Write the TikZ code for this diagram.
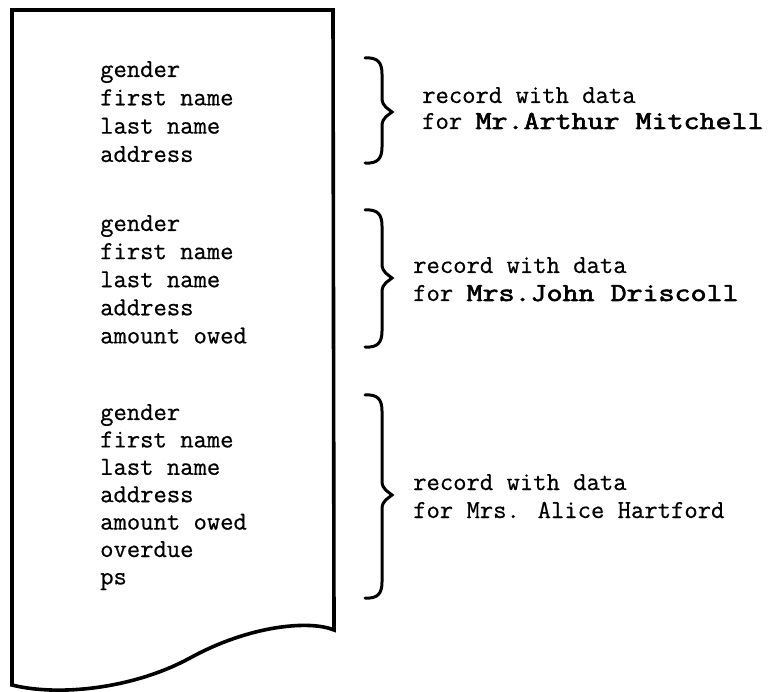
\documentclass[tikz,border=0pt]{standalone}
\usepackage{graphicx}
\usepackage{fontspec}
\newfontfamily\typefont[FakeBold=0.6]{Latin Modern Mono}
\newfontfamily\heavyfont[FakeBold=2.2]{Latin Modern Mono}
\newcommand{\widetxt}[1]{\scalebox{1.2}[1]{\heavyfont #1}}
\newcommand{\bracepath}[3]{% top, tip, bottom
  (365,#1) .. controls (378,#1-1) and (382,#1+5) .. (382,#1+16)
  -- (382,#2-14) .. controls (382,#2-5) and (389,#2-3) .. (392,#2)
  .. controls (389,#2+3) and (382,#2+5) .. (382,#2+14)
  -- (382,#3-16) .. controls (382,#3-5) and (378,#3+1) .. (365,#3)}
\begin{document}
\begin{tikzpicture}[x=1pt,y=-1pt,
  page/.style={line width=3.6pt,line join=miter},
  brc/.style={line width=3pt,line cap=round},
  txt/.style={inner sep=0pt,anchor=base west,font=\fontsize{25.9}{27}\selectfont\typefont}]
\useasboundingbox (0,0) rectangle (774,692);
% page outline
\draw[page] (334,630) .. controls (310,620) and (250,625) .. (190,658)
  .. controls (135,688) and (60,697) .. (12,685) -- (12,10) -- (333,10) -- cycle;
% block 1
\foreach \t [count=\i] in {gender,first name,last name,address}
  \node[txt] (a\i) at (100,{77+28.3*(\i-1)}) {\t};
% block 2
\foreach \t [count=\i] in {gender,first name,last name,address,amount owed}
  \node[txt] (b\i) at (100,{231+28.1*(\i-1)}) {\t};
% block 3
\foreach \t [count=\i] in {gender,first name,last name,address,amount owed,overdue,ps}
  \node[txt] (c\i) at (100,{420+27.4*(\i-1)}) {\t};
% braces
\draw[brc] \bracepath{58}{112}{163};
\draw[brc] \bracepath{210}{278}{347};
\draw[brc] \bracepath{395}{495}{598};
% labels
\node[txt] (l1a) at (422,103) {record with data};
\node[txt] (l1b) at (422,129) {for \widetxt{Mr.Arthur Mitchell}};
\node[txt] (l2a) at (413,273) {record with data};
\node[txt] (l2b) at (413,301) {for \widetxt{Mrs.John Driscoll}};
\node[txt] (l3a) at (413,490) {record with data};
\node[txt] (l3b) at (413,518) {for Mrs. Alice Hartford};
\end{tikzpicture}
\end{document}
